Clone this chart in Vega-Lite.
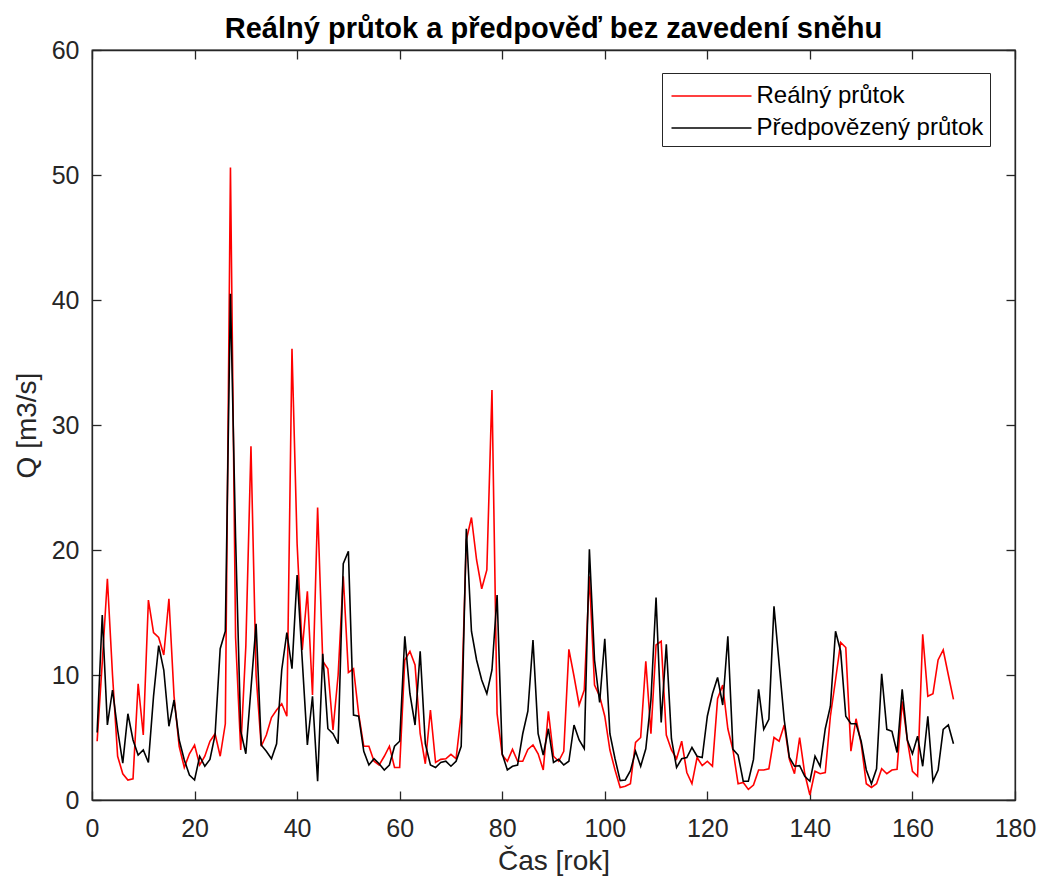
{
"$schema": "https://vega.github.io/schema/vega-lite/v6.json",
"width": 923, "height": 750,
"autosize": {"type": "none"},
"padding": {"left": 92, "top": 50, "right": 22, "bottom": 82},
"background": "white",
"title": {"text": "Reálný průtok a předpověď bez zavedení sněhu", "fontSize": 29, "font": "Liberation Sans", "fontWeight": "bold", "color": "#000000", "baseline": "alphabetic", "offset": 11, "dy": 40, "anchor": "middle"},
"data": {"values": [
{"t":1,"real":4.7,"pred":5.4},{"t":2,"real":11,"pred":14.8},{"t":3,"real":17.7,"pred":6.0},{"t":4,"real":10,"pred":8.8},{"t":5,"real":3.5,"pred":5.6},
{"t":6,"real":2.1,"pred":2.95},{"t":7,"real":1.6,"pred":6.9},{"t":8,"real":1.7,"pred":4.8},{"t":9,"real":9.3,"pred":3.6},{"t":10,"real":5.2,"pred":4.0},
{"t":11,"real":16,"pred":3.0},{"t":12,"real":13.4,"pred":8.3},{"t":13,"real":13.0,"pred":12.35},{"t":14,"real":11.6,"pred":10.4},{"t":15,"real":16.1,"pred":5.9},
{"t":16,"real":8.3,"pred":8.0},{"t":17,"real":4.3,"pred":4.8},{"t":18,"real":2.6,"pred":3.2},{"t":19,"real":3.7,"pred":2.0},{"t":20,"real":4.4,"pred":1.6},
{"t":21,"real":2.8,"pred":3.5},{"t":22,"real":3.5,"pred":2.7},{"t":23,"real":4.7,"pred":3.25},{"t":24,"real":5.3,"pred":5.2},{"t":25,"real":3.5,"pred":12.1},
{"t":26,"real":6.1,"pred":13.5},{"t":27,"real":50.6,"pred":40.5},{"t":28,"real":13,"pred":21},{"t":29,"real":4.0,"pred":5.5},{"t":30,"real":12.3,"pred":3.7},
{"t":31,"real":28.3,"pred":8.9},{"t":32,"real":10,"pred":14.1},{"t":33,"real":4.3,"pred":4.4},{"t":34,"real":5.2,"pred":3.9},{"t":35,"real":6.6,"pred":3.3},
{"t":36,"real":7.2,"pred":4.5},{"t":37,"real":7.7,"pred":10.4},{"t":38,"real":6.7,"pred":13.4},{"t":39,"real":36.1,"pred":10.5},{"t":40,"real":20.5,"pred":18.0},
{"t":41,"real":12,"pred":11.2},{"t":42,"real":16.7,"pred":4.4},{"t":43,"real":8.4,"pred":8.3},{"t":44,"real":23.4,"pred":1.5},{"t":45,"real":11.1,"pred":11.7},
{"t":46,"real":10.5,"pred":5.7},{"t":47,"real":5.6,"pred":5.3},{"t":48,"real":10,"pred":4.5},{"t":49,"real":17.9,"pred":18.9},{"t":50,"real":10.2,"pred":19.9},
{"t":51,"real":10.5,"pred":6.8},{"t":52,"real":6.9,"pred":6.7},{"t":53,"real":4.3,"pred":3.9},{"t":54,"real":4.3,"pred":2.8},{"t":55,"real":3.1,"pred":3.3},
{"t":56,"real":2.8,"pred":2.9},{"t":57,"real":3.5,"pred":2.4},{"t":58,"real":4.3,"pred":2.8},{"t":59,"real":2.6,"pred":4.3},{"t":60,"real":2.6,"pred":4.7},
{"t":61,"real":11.2,"pred":13.1},{"t":62,"real":11.9,"pred":8.5},{"t":63,"real":10.8,"pred":6.0},{"t":64,"real":5.3,"pred":11.9},{"t":65,"real":2.9,"pred":4.5},
{"t":66,"real":7.2,"pred":2.8},{"t":67,"real":3.0,"pred":2.6},{"t":68,"real":3.25,"pred":3.0},{"t":69,"real":3.3,"pred":3.1},{"t":70,"real":3.65,"pred":2.7},
{"t":71,"real":3.3,"pred":3.1},{"t":72,"real":6.9,"pred":4.3},{"t":73,"real":20.8,"pred":21.7},{"t":74,"real":22.6,"pred":13.5},{"t":75,"real":19.2,"pred":11.2},
{"t":76,"real":16.9,"pred":9.6},{"t":77,"real":18.4,"pred":8.5},{"t":78,"real":32.8,"pred":10.4},{"t":79,"real":6.9,"pred":16.4},{"t":80,"real":3.6,"pred":3.7},
{"t":81,"real":3.1,"pred":2.4},{"t":82,"real":4.05,"pred":2.7},{"t":83,"real":3.1,"pred":2.8},{"t":84,"real":3.1,"pred":5.3},{"t":85,"real":4.05,"pred":7.1},
{"t":86,"real":4.4,"pred":12.8},{"t":87,"real":3.7,"pred":5.3},{"t":88,"real":2.4,"pred":3.6},{"t":89,"real":7.1,"pred":5.7},{"t":90,"real":3.5,"pred":3.0},
{"t":91,"real":3.1,"pred":3.25},{"t":92,"real":3.9,"pred":2.8},{"t":93,"real":12.05,"pred":3.1},{"t":94,"real":9.9,"pred":6.0},{"t":95,"real":7.6,"pred":4.8},
{"t":96,"real":8.8,"pred":4.1},{"t":97,"real":17.9,"pred":20.05},{"t":98,"real":9.2,"pred":11.2},{"t":99,"real":8.3,"pred":7.8},{"t":100,"real":6.7,"pred":12.9},
{"t":101,"real":4.0,"pred":5.3},{"t":102,"real":2.4,"pred":3.3},{"t":103,"real":1.0,"pred":1.55},{"t":104,"real":1.1,"pred":1.6},{"t":105,"real":1.3,"pred":2.35},
{"t":106,"real":4.6,"pred":3.9},{"t":107,"real":5.0,"pred":2.7},{"t":108,"real":11.1,"pred":4.1},{"t":109,"real":5.3,"pred":8.0},{"t":110,"real":12.4,"pred":16.2},
{"t":111,"real":12.7,"pred":6.2},{"t":112,"real":5.2,"pred":12.45},{"t":113,"real":4.0,"pred":4.9},{"t":114,"real":3.3,"pred":2.6},{"t":115,"real":4.7,"pred":3.3},
{"t":116,"real":2.2,"pred":3.4},{"t":117,"real":1.3,"pred":4.2},{"t":118,"real":3.4,"pred":3.5},{"t":119,"real":2.75,"pred":3.4},{"t":120,"real":3.1,"pred":6.7},
{"t":121,"real":2.7,"pred":8.5},{"t":122,"real":8.1,"pred":9.8},{"t":123,"real":9.2,"pred":7.6},{"t":124,"real":5.7,"pred":13.1},{"t":125,"real":4.0,"pred":4.05},
{"t":126,"real":1.3,"pred":3.6},{"t":127,"real":1.4,"pred":1.5},{"t":128,"real":0.85,"pred":1.5},{"t":129,"real":1.2,"pred":3.25},{"t":130,"real":2.4,"pred":8.85},
{"t":131,"real":2.4,"pred":5.65},{"t":132,"real":2.5,"pred":6.45},{"t":133,"real":5.0,"pred":15.5},{"t":134,"real":4.7,"pred":10.9},{"t":135,"real":6.0,"pred":6.4},
{"t":136,"real":3.25,"pred":3.4},{"t":137,"real":2.1,"pred":2.7},{"t":138,"real":5.0,"pred":2.75},{"t":139,"real":2.1,"pred":1.9},{"t":140,"real":0.4,"pred":1.5},
{"t":141,"real":2.3,"pred":3.5},{"t":142,"real":2.1,"pred":2.7},{"t":143,"real":2.2,"pred":5.7},{"t":144,"real":6.7,"pred":7.5},{"t":145,"real":9.6,"pred":13.5},
{"t":146,"real":12.6,"pred":11.9},{"t":147,"real":12.2,"pred":6.7},{"t":148,"real":3.9,"pred":6.1},{"t":149,"real":6.5,"pred":6.1},{"t":150,"real":4.5,"pred":4.7},
{"t":151,"real":1.3,"pred":2.4},{"t":152,"real":1.0,"pred":1.3},{"t":153,"real":1.3,"pred":2.5},{"t":154,"real":2.5,"pred":10.1},{"t":155,"real":2.1,"pred":5.65},
{"t":156,"real":2.4,"pred":5.5},{"t":157,"real":2.45,"pred":3.8},{"t":158,"real":7.9,"pred":8.85},{"t":159,"real":4.8,"pred":4.8},{"t":160,"real":2.3,"pred":3.7},
{"t":161,"real":1.9,"pred":5.1},{"t":162,"real":13.25,"pred":2.7},{"t":163,"real":8.3,"pred":6.7},{"t":164,"real":8.5,"pred":1.5},{"t":165,"real":11.2,"pred":2.4},
{"t":166,"real":12.0,"pred":5.65},{"t":167,"real":10.0,"pred":6.0},{"t":168,"real":8.05,"pred":4.5}
]},
"transform": [{"fold": ["real", "pred"], "as": ["series", "Q"]}],
"layer": [
  {
    "mark": {"type": "line", "strokeWidth": 1.6},
    "encoding": {
      "x": {"field": "t", "type": "quantitative", "scale": {"domain": [0, 180], "nice": false},
            "axis": {"orient": "bottom", "values": [0,20,40,60,80,100,120,140,160,180], "title": "Čas [rok]", "labelPadding": 25, "titlePadding": 6}},
      "y": {"field": "Q", "type": "quantitative", "scale": {"domain": [0, 60], "nice": false},
            "axis": {"orient": "left", "values": [0,10,20,30,40,50,60], "title": "Q [m3/s]", "labelPadding": 22, "titlePadding": 10}},
      "color": {"field": "series", "type": "nominal",
                "scale": {"domain": ["real", "pred"], "range": ["#FF0000", "#000000"]},
                "legend": {"orient": "none", "legendX": 570, "legendY": 23, "title": null, "direction": "vertical",
                           "labelExpr": "datum.value == 'real' ? 'Reálný průtok' : 'Předpovězený průtok'",
                           "strokeColor": "#262626", "fillColor": "white", "padding": 6, "rowPadding": 3,
                           "symbolType": "M-2.5,0L2.5,0", "symbolSize": 1024, "symbolOffset": 26.5, "symbolStrokeWidth": 1.6,
                           "labelOffset": 28, "labelFont": "Liberation Sans", "labelFontSize": 24, "labelColor": "#000000", "labelLimit": 400}}
    }
  },
  {
    "mark": {"type": "line", "opacity": 0},
    "encoding": {
      "x": {"field": "t", "type": "quantitative", "scale": {"domain": [0, 180], "nice": false},
            "axis": {"orient": "top", "values": [0,20,40,60,80,100,120,140,160,180], "labels": false, "title": null}},
      "y": {"field": "Q", "type": "quantitative", "scale": {"domain": [0, 60], "nice": false},
            "axis": {"orient": "right", "values": [0,10,20,30,40,50,60], "labels": false, "title": null}},
      "detail": {"field": "series"}
    }
  }
],
"resolve": {"axis": {"x": "independent", "y": "independent"}},
"config": {
  "view": {"stroke": "#262626", "strokeWidth": 1.3},
  "axis": {"grid": false, "domainColor": "#262626", "domainWidth": 1.3, "tickColor": "#262626", "tickWidth": 1.3, "tickSize": -9,
           "labelFont": "Liberation Sans", "labelFontSize": 25, "labelColor": "#262626", "labelFlush": false, "labelOverlap": false, "labelBound": false,
           "titleFont": "Liberation Sans", "titleFontSize": 28, "titleFontWeight": "normal", "titleColor": "#262626"}
}
}
